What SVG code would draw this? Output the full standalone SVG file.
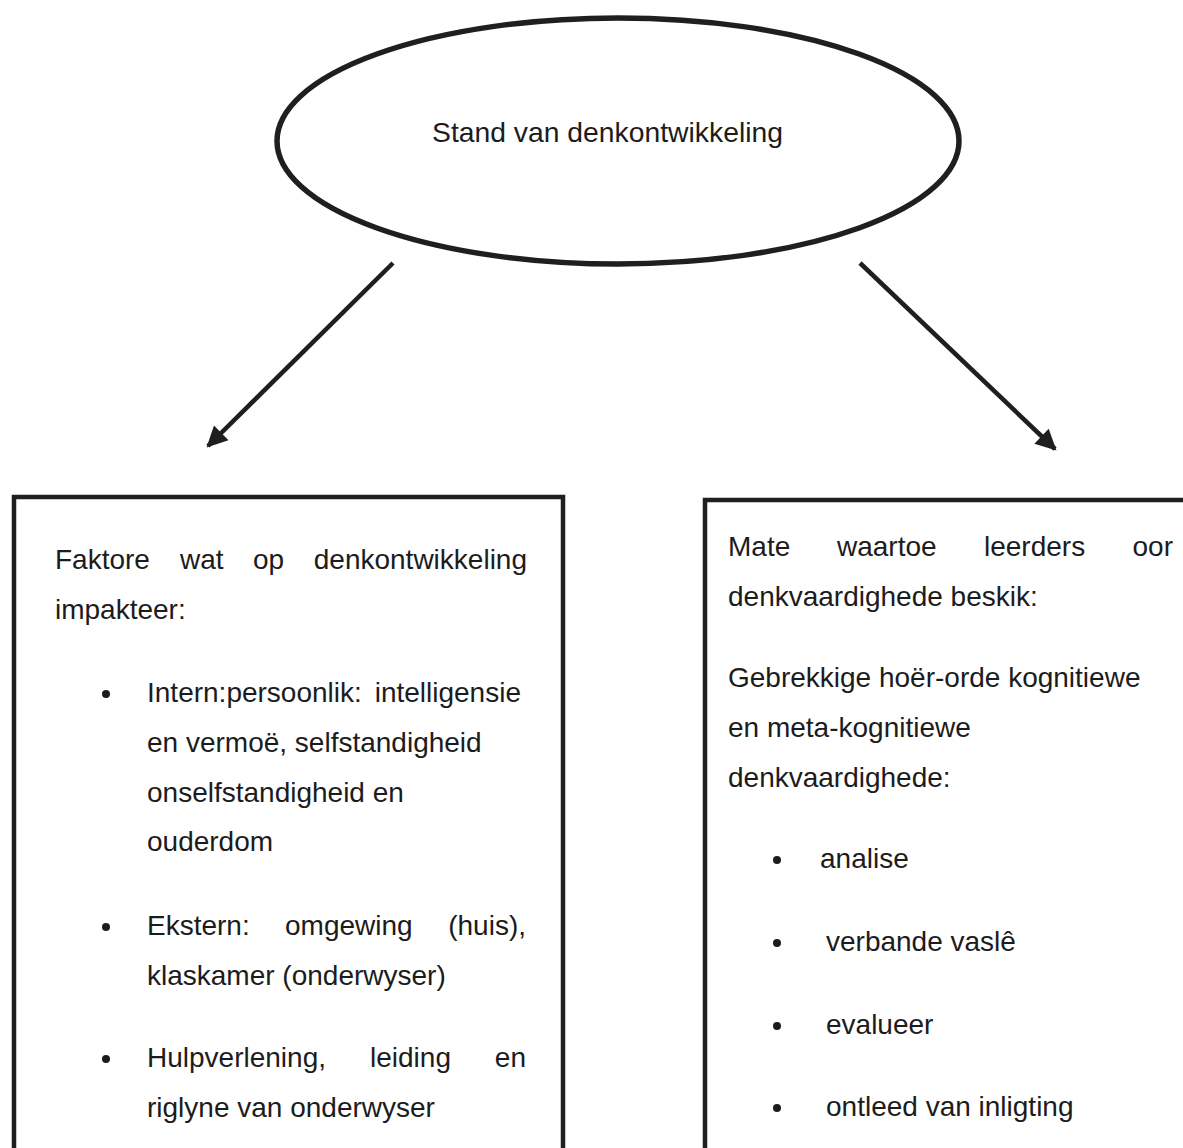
<svg xmlns="http://www.w3.org/2000/svg" width="1183" height="1148" viewBox="0 0 1183 1148">
<defs>
<style>
.t{font-family:"Liberation Sans",Arial,sans-serif;font-size:28px;fill:#1c1c1c}
.e{text-anchor:end}
.edge{fill:none;stroke:#1f1f1f;stroke-width:4.5}
.box{fill:none;stroke:#1f1f1f;stroke-width:4.5}
.bul{fill:#1c1c1c}
</style>
<marker id="ah" viewBox="0 0 10 10" refX="9" refY="5" markerWidth="5.2" markerHeight="4.6" orient="auto" markerUnits="strokeWidth">
<path d="M0,0 L10,5 L0,10 z" fill="#1f1f1f"/>
</marker>
</defs>
<rect width="1183" height="1148" fill="#ffffff"/>
<g id="node-top">
<ellipse cx="618" cy="141" rx="341" ry="123" fill="none" stroke="#1f1f1f" stroke-width="5.5"/>
<text class="t" x="432" y="142" textLength="351" lengthAdjust="spacingAndGlyphs">Stand van denkontwikkeling</text>
</g>
<g id="node-left">
<path class="box" d="M14,1150 V497 H563 V1150"/>
<text class="t" y="569"><tspan x="55">Faktore</tspan><tspan x="180">wat</tspan><tspan x="253">op</tspan></text>
<text class="t e" x="527" y="569">denkontwikkeling</text>
<text class="t" x="55" y="619">impakteer:</text>
<circle class="bul" cx="106" cy="694" r="4"/>
<text class="t" x="147" y="702">Intern:persoonlik:</text>
<text class="t e" x="521" y="702">intelligensie</text>
<text class="t" x="147" y="752">en vermoë, selfstandigheid</text>
<text class="t" x="147" y="802">onselfstandigheid en</text>
<text class="t" x="147" y="851">ouderdom</text>
<circle class="bul" cx="106" cy="927" r="4"/>
<text class="t" y="935"><tspan x="147">Ekstern:</tspan><tspan x="285">omgewing</tspan></text>
<text class="t e" x="526" y="935">(huis),</text>
<text class="t" x="147" y="985">klaskamer (onderwyser)</text>
<circle class="bul" cx="106" cy="1059" r="4"/>
<text class="t" y="1067"><tspan x="147">Hulpverlening,</tspan><tspan x="370">leiding</tspan></text>
<text class="t e" x="526" y="1067">en</text>
<text class="t" x="147" y="1117">riglyne van onderwyser</text>
</g>
<g id="node-right">
<path class="box" d="M705,1150 V500 H1190"/>
<text class="t" y="556"><tspan x="728">Mate</tspan><tspan x="837">waartoe</tspan><tspan x="984">leerders</tspan></text>
<text class="t e" x="1173" y="556">oor</text>
<text class="t" x="728" y="606">denkvaardighede beskik:</text>
<text class="t" x="728" y="687">Gebrekkige hoër-orde kognitiewe</text>
<text class="t" x="728" y="737">en meta-kognitiewe</text>
<text class="t" x="728" y="787">denkvaardighede:</text>
<circle class="bul" cx="777" cy="860" r="4"/>
<text class="t" x="820" y="868">analise</text>
<circle class="bul" cx="777" cy="943" r="4"/>
<text class="t" x="826" y="951">verbande vaslê</text>
<circle class="bul" cx="777" cy="1026" r="4"/>
<text class="t" x="826" y="1034">evalueer</text>
<circle class="bul" cx="777" cy="1108" r="4"/>
<text class="t" x="826" y="1116">ontleed van inligting</text>
</g>
<g id="connectors">
<line class="edge" x1="393" y1="263" x2="208" y2="446" marker-end="url(#ah)"/>
<line class="edge" x1="860" y1="263" x2="1055" y2="449" marker-end="url(#ah)"/>
</g>
</svg>
